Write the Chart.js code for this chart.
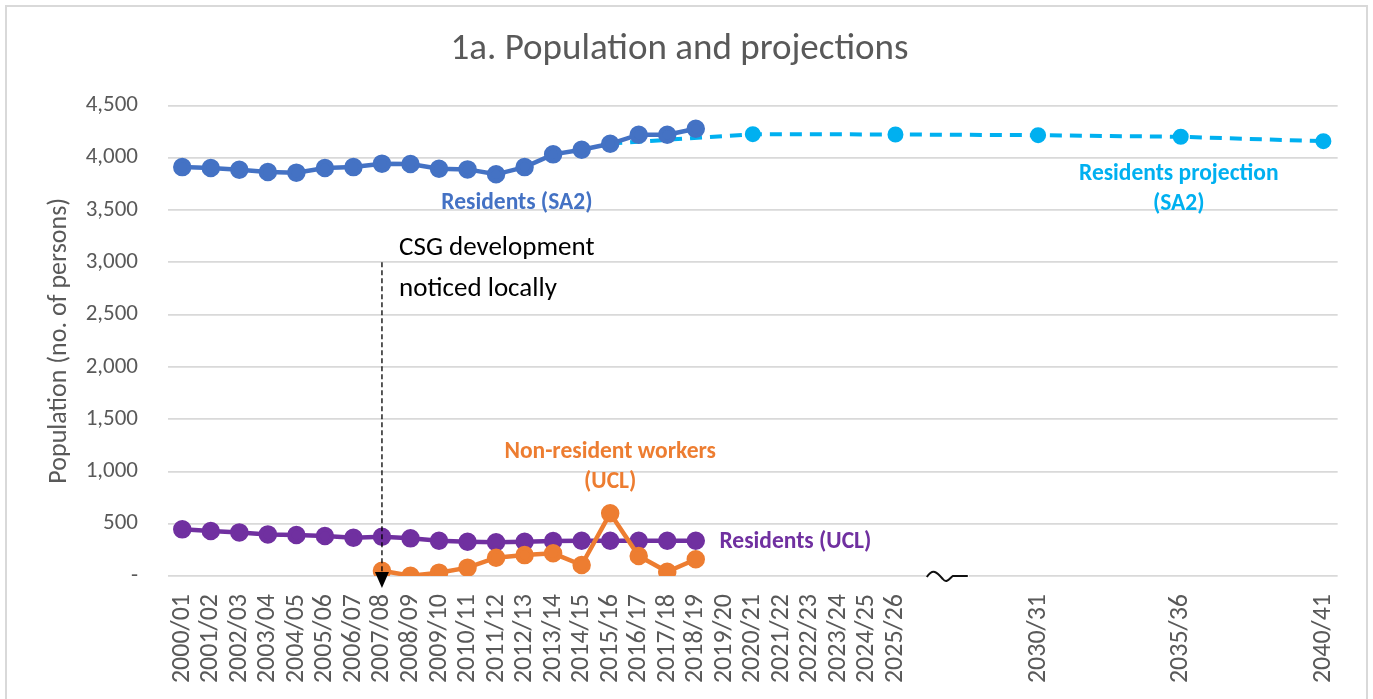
<!DOCTYPE html>
<html>
<head>
<meta charset="utf-8">
<script src="https://cdn.jsdelivr.net/npm/chart.js@4"></script>
<style>
  html, body { margin: 0; padding: 0; background: #fff; }
  canvas { display: block; }
</style>
</head>
<body>
<canvas id="popChart" width="1373" height="699"></canvas>
<script>
// 데이터
const yearLabels = [
  '2000/01', '2001/02', '2002/03', '2003/04', '2004/05', '2005/06', '2006/07', '2007/08',
  '2008/09', '2009/10', '2010/11', '2011/12', '2012/13', '2013/14', '2014/15', '2015/16',
  '2016/17', '2017/18', '2018/19', '2019/20', '2020/21', '2021/22', '2022/23', '2023/24',
  '2024/25', '2025/26', '', '', '', '', '2030/31', '', '', '', '', '2035/36', '', '', '', '', '2040/41'
];

const residentsSA2 = [3910, 3901, 3885, 3863, 3857, 3901, 3910, 3943, 3940, 3895, 3888, 3841,
  3910, 4032, 4076, 4133, 4220, 4220, 4277];

const residentsUCL = [446, 430, 417, 398, 392, 382, 366, 375, 360, 337, 328, 322, 328, 334,
  337, 337, 337, 337, 337];

const nonResidentWorkers = [null, null, null, null, null, null, null,
  50, 3, 32, 80, 175, 200, 217, 105, 599, 191, 41, 160];

const projectionSA2 = [null, null, null, null, null, null, null, null, null, null,
  null, null, null, null, null, 4135, null, null, null, null,
  4225, null, null, null, null, 4222, null, null, null, null,
  4215, null, null, null, null, 4200, null, null, null, null, 4158];

const yTicks = [0, 500, 1000, 1500, 2000, 2500, 3000, 3500, 4000, 4500];

// 색상, 글꼴
const FONT = 'Calibri, Carlito, Lato, sans-serif';
const GREY_TEXT = '#595959';
const BLUE = '#4472C4';
const LIGHT_BLUE = '#00B0F0';
const PURPLE = '#7030A0';
const ORANGE = '#ED7D31';

// 차트 위 글자 (데이터 좌표 기준)
const notes = [
  { text: ['Residents (SA2)'], x: 11.73, y: 3570, color: BLUE, bold: true, align: 'center' },
  { text: ['Residents projection', '(SA2)'], x: 34.93, y: 3845, color: LIGHT_BLUE, bold: true, align: 'center' },
  { text: ['Non-resident workers', '(UCL)'], x: 15, y: 1180, color: ORANGE, bold: true, align: 'center' },
  { text: ['Residents (UCL)'], x: 18.83, y: 320, color: PURPLE, bold: true, align: 'left' },
  { text: ['CSG development', 'noticed locally'], x: 7.6, y: 3130, color: '#000', bold: false, align: 'left', size: 27, lineGap: 385 }
];

const frameAndNotes = {
  id: 'frameAndNotes',
  beforeDraw(chart) {
    const ctx = chart.ctx;
    ctx.save();
    ctx.fillStyle = '#fff';
    ctx.fillRect(0, 0, chart.width, chart.height);
    ctx.strokeStyle = '#d9d9d9';
    ctx.lineWidth = 2;
    ctx.strokeRect(6, 6, chart.width - 12, chart.height + 20);
    ctx.restore();
  },
  afterDatasetsDraw(chart) {
    const ctx = chart.ctx;
    const xs = chart.scales.x, ys = chart.scales.y;
    ctx.save();

    // CSG 점선 화살표
    const ax = xs.getPixelForValue(7);
    const top = ys.getPixelForValue(3000);
    const bottom = ys.getPixelForValue(0);
    ctx.strokeStyle = '#000';
    ctx.lineWidth = 1.3;
    ctx.setLineDash([5, 3]);
    ctx.beginPath();
    ctx.moveTo(ax, top);
    ctx.lineTo(ax, bottom - 2);
    ctx.stroke();
    ctx.setLineDash([]);
    ctx.fillStyle = '#000';
    ctx.beginPath();
    ctx.moveTo(ax - 7, bottom - 4);
    ctx.lineTo(ax + 7, bottom - 4);
    ctx.lineTo(ax, bottom + 12);
    ctx.closePath();
    ctx.fill();

    // 축 끊김 표시
    const bx = xs.getPixelForValue(26.8);
    ctx.fillStyle = '#fff';
    ctx.fillRect(bx - 20, bottom - 3, 42, 6);
    ctx.strokeStyle = '#111';
    ctx.lineWidth = 2;
    ctx.beginPath();
    ctx.moveTo(bx - 20, bottom + 1);
    ctx.bezierCurveTo(bx - 14, bottom - 8, bx - 10, bottom - 4, bx - 4, bottom + 3);
    ctx.bezierCurveTo(bx, bottom + 8, bx + 3, bottom + 2, bx + 6, bottom);
    ctx.lineTo(bx + 21, bottom);
    ctx.stroke();

    // 라벨
    notes.forEach(n => {
      const size = n.size || 23.5;
      ctx.font = (n.bold ? 'bold ' : '') + size + 'px ' + FONT;
      ctx.fillStyle = n.color;
      ctx.textAlign = n.align;
      ctx.textBaseline = 'middle';
      const px = xs.getPixelForValue(n.x);
      let py = ys.getPixelForValue(n.y);
      const step = n.lineGap ? (ys.getPixelForValue(0) - ys.getPixelForValue(n.lineGap)) : 30;
      n.text.forEach((line, i) => {
        ctx.fillText(line, px, py + i * step);
      });
    });
    ctx.restore();
  }
};

const ctx = document.getElementById('popChart').getContext('2d');
const myChart = new Chart(ctx, {
  type: 'line',
  data: {
    labels: yearLabels,
    datasets: [
      {
        label: 'Residents (SA2)',
        data: residentsSA2,
        borderColor: BLUE,
        backgroundColor: BLUE,
        borderWidth: 4.5,
        pointRadius: 7,
        pointHoverRadius: 7,
        order: 1
      },
      {
        label: 'Residents projection (SA2)',
        data: projectionSA2,
        borderColor: LIGHT_BLUE,
        backgroundColor: LIGHT_BLUE,
        borderWidth: 4,
        borderDash: [12, 8],
        pointRadius: projectionSA2.map((v, i) => i === 15 ? 0 : 6),
        spanGaps: true,
        order: 4
      },
      {
        label: 'Residents (UCL)',
        data: residentsUCL,
        borderColor: PURPLE,
        backgroundColor: PURPLE,
        borderWidth: 4.5,
        pointRadius: 7,
        order: 3
      },
      {
        label: 'Non-resident workers (UCL)',
        data: nonResidentWorkers,
        borderColor: ORANGE,
        backgroundColor: ORANGE,
        borderWidth: 4.5,
        pointRadius: 7,
        order: 2
      }
    ]
  },
  options: {
    responsive: false,
    animation: false,
    layout: { padding: { left: 20, right: 34, top: 0, bottom: 0 } },
    plugins: {
      legend: { display: false },
      tooltip: { enabled: false },
      title: {
        display: true,
        text: '1a. Population and projections',
        color: GREY_TEXT,
        font: { family: FONT, size: 37, weight: 'normal' },
        padding: { top: 28, bottom: 33 }
      }
    },
    scales: {
      x: {
        offset: true,
        grid: { display: false, drawTicks: false },
        border: { display: false },
        ticks: {
          autoSkip: false,
          maxRotation: 90,
          minRotation: 90,
          padding: 18,
          color: GREY_TEXT,
          font: { family: FONT, size: 26 }
        },
        afterFit: s => { s.height = 123; }
      },
      y: {
        min: 0,
        max: 4500,
        afterBuildTicks: s => { s.ticks = yTicks.map(v => ({ value: v })); },
        grid: { color: '#d9d9d9', lineWidth: 1.7, drawTicks: false },
        border: { display: false },
        ticks: {
          padding: 30,
          color: GREY_TEXT,
          font: { family: FONT, size: 23 },
          callback: v => v === 0 ? '-' : v.toLocaleString('en-US')
        },
        title: {
          display: true,
          text: 'Population (no. of persons)',
          color: GREY_TEXT,
          font: { family: FONT, size: 26 },
          padding: { top: 24, bottom: 0 }
        },
        afterFit: s => { s.width = 148; }
      }
    }
  },
  plugins: [frameAndNotes]
});
</script>
</body>
</html>
